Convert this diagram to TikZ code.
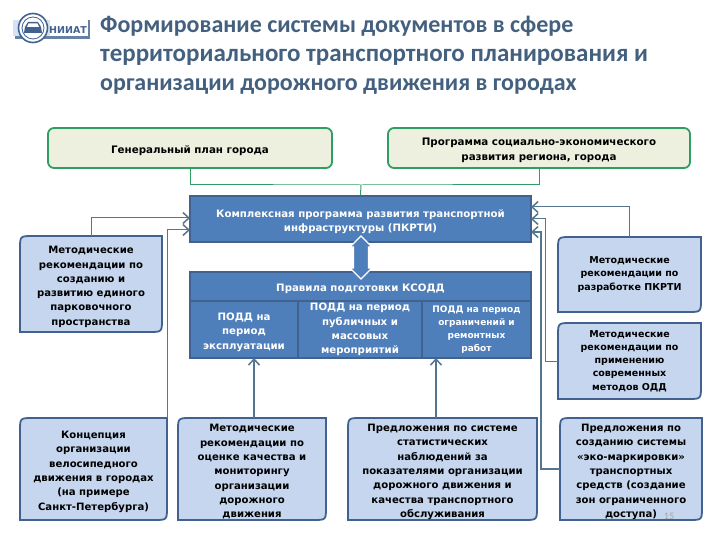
\documentclass[tikz,border=0pt]{standalone}
\usepackage{fontspec}
\setmainfont{DejaVu Sans}
\newfontfamily\titlefont{Carlito}
\usetikzlibrary{arrows.meta}
\definecolor{titleblue}{HTML}{44607F}
\definecolor{planline}{HTML}{2F9E63}
\definecolor{planfill}{HTML}{EDF0DF}
\definecolor{deepblue}{HTML}{4F7FBA}
\definecolor{deepline}{HTML}{41628F}
\definecolor{docfill}{HTML}{C5D6EE}
\definecolor{wireblue}{HTML}{55768F}
\tikzset{
    lowtext/.style={execute at begin node={\rule{0pt}{\dimexpr\baselineskip*#1+13pt\relax}}},
    planbox/.style={draw=planline,fill=planfill,line width=1.8,rounded corners=6,inner sep=0,align=center,font=\fontsize{10.3}{15}\selectfont\bfseries},
    bluebox/.style={draw=deepline,fill=deepblue,line width=1.4,inner sep=0,align=center,text=white,font=\fontsize{10.2}{14.4}\selectfont\bfseries},
    docframe/.style={draw=deepline,fill=docfill,line width=1.8},
    doctext/.style={inner sep=0,align=center,font=\fontsize{10.1}{14.3}\selectfont\bfseries},
    wire/.style={draw=wireblue,line width=1},
    thickwire/.style={draw=wireblue,line width=1.8}
}
\newcommand{\docbox}[6][]{%
    \draw[docframe] (#3,#4+13) .. controls (#3,#4) .. (#3+13,#4) -- (#5,#4) -- (#5,#6-13) .. controls (#5,#6) .. (#5-13,#6) -- (#3,#6) -- cycle;
    \pgfmathsetmacro{\docw}{#5-#3}
    \pgfmathsetmacro{\doch}{#6-#4}
    \node[doctext,minimum width=\docw,minimum height=\doch,#1] (#2) at ({(#3+#5)/2},{(#4+#6)/2})
}
\begin{document}
\begin{tikzpicture}[x=1pt,y=-1pt,>={Straight Barb[length=6pt,width=11pt,line width=1.5pt]}]
    \useasboundingbox (0,0) rectangle (720,540);

    \fill[docfill!70!white] (13,20) rectangle (50,36);
    \fill[deepline!80] (15,36) rectangle (90,39);
    \fill[deepline!80] (88,20) rectangle (90,39);
    \node[circle,draw=deepline,fill=white,line width=1.6,minimum size=29,inner sep=0] (logo) at (33,28) {};
    \draw[deepline,line width=0.8] (33,28) circle (11);
    \fill[deepline] (25,27) -- (28,22) -- (38,22) -- (41,27) -- (42,33) -- (24,33) -- cycle;
    \fill[white] (28.5,23.5) -- (37.5,23.5) -- (39,27) -- (27,27) -- cycle;
    \node[inner sep=0,text=deepline,font=\fontsize{9.5}{10}\selectfont\bfseries] (niiat) at (68,30) {НИИАТ};

    \node[anchor=west,inner sep=0,align=left,text=titleblue,font=\fontsize{24}{29}\titlefont\bfseries] (title) at (100,55)
        {Формирование системы документов в сфере\\{\fontsize{25}{29}\selectfont территориального транспортного планирования и}\\организации дорожного движения в городах};

    \node[planbox,lowtext=0,minimum width=284,minimum height=40] (gp) at (190,148) {Генеральный план города};
    \node[planbox,lowtext=1,minimum width=302,minimum height=40] (prog) at (539,148) {Программа социально-экономического\\развития региона, города};

    \node[bluebox,lowtext=1,minimum width=341,minimum height=46] (pkrti) at (360.5,219) {Комплексная программа развития транспортной\\инфраструктуры  (ПКРТИ)};
    \node[bluebox,lowtext=0,minimum width=341,minimum height=29] (ksodd) at (360.5,286.5) {Правила подготовки КСОДД};
    \node[bluebox,lowtext=2,minimum width=108,minimum height=57] (podd1) at (244,329.5) {ПОДД на\\период\\эксплуатации};
    \node[bluebox,minimum width=124,minimum height=57] (podd2) at (360,329.5) {ПОДД на период\\публичных и\\массовых\\мероприятий};
    \node[bluebox,minimum width=109,minimum height=57,font=\fontsize{9}{13}\selectfont\bfseries] (podd3) at (476.5,329.5) {ПОДД на период\\ограничений и\\ремонтных\\работ};

    \docbox[lowtext=5]{parking}{20}{236}{162}{332} {Методические\\рекомендации по\\созданию и\\развитию единого\\парковочного\\пространства};
    \docbox[lowtext=5]{velo}{20}{418}{167}{520} {Концепция\\организации\\велосипедного\\движения в городах\\(на примере\\Санкт-Петербурга)};
    \docbox[lowtext=6]{quality}{178}{418}{326}{520} {Методические\\рекомендации по\\оценке качества и\\мониторингу\\организации\\дорожного\\движения};
    \docbox[lowtext=6]{stats}{348}{418}{537}{520} {Предложения по системе\\статистических\\наблюдений за\\показателями организации\\дорожного движения и\\качества транспортного\\обслуживания};
    \docbox[font=\fontsize{9.5}{13.6}\selectfont\bfseries]{pkrtidoc}{558}{237}{701}{312} {Методические\\рекомендации по\\разработке ПКРТИ};
    \docbox[font=\fontsize{9.5}{13.2}\selectfont\bfseries]{odd}{558}{323}{701}{399} {Методические\\рекомендации по\\применению\\современных\\методов ОДД};
    \docbox[lowtext=6]{eco}{560}{418}{702}{520} {Предложения по\\созданию системы\\«эко-маркировки»\\транспортных\\средств (создание\\зон ограниченного\\доступа)};

    \node[inner sep=0,text=black!35,font=\fontsize{10}{10}\titlefont] (pageno) at (669,516) {15};

    \coordinate (planjoin) at (361,185);
    \coordinate (inleft1) at (190,218);
    \coordinate (inleft2) at (190,230);
    \coordinate (inright1) at (531,207);
    \coordinate (inright2) at (531,219);
    \coordinate (inright3) at (531,232);
    \coordinate (busodd) at (545,219);
    \coordinate (buseco) at (541,232);
    \coordinate (inpodd1) at (254,358);
    \coordinate (inpodd3) at (436,358);

    \draw[wire,draw=planline] (gp.south) |- (planjoin) -| (prog.south);
    \draw[wire,draw=planline] (planjoin) -- (pkrti.north);

    \draw[wire,->] (parking.north) |- (inleft1);
    \draw[wire,->] (velo.north east) |- (inleft2);
    \draw[wire,->] (pkrtidoc.north) |- (inright1);
    \draw[wire,->] (odd.west) -| (busodd) -- (inright2);
    \draw[wire,line width=1.4,->] (eco.west) -| (buseco) -- (inright3);
    \draw[thickwire,->] (inpodd1 |- quality.north) -- (inpodd1);
    \draw[thickwire,->] (inpodd3 |- stats.north) -- (inpodd3);

    \filldraw[draw=white,fill=deepblue,line width=1.4] (361,236) -- (372,247) -- (368.5,247) -- (368.5,268) -- (372,268) -- (361,279) -- (350,268) -- (353.5,268) -- (353.5,247) -- (350,247) -- cycle;
\end{tikzpicture}
\end{document}
